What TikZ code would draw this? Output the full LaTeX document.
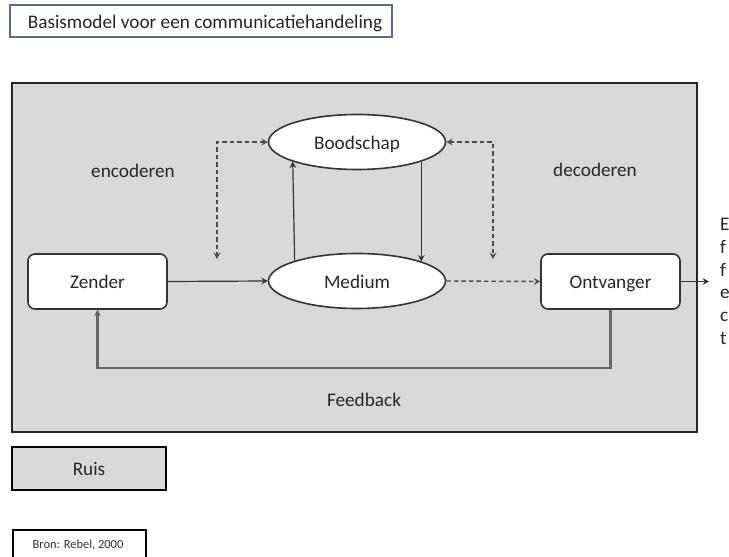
\documentclass[tikz,border=0pt]{standalone}
\usepackage{fontspec}
\setmainfont{Carlito}
\usetikzlibrary{arrows.meta,shapes.geometric}
\definecolor{bggray}{HTML}{D9D9D9}
\definecolor{lineg}{HTML}{333333}
\definecolor{titleb}{HTML}{5A6B85}
\tikzset{
  lbl/.style={font=\fontsize{19.3}{22}\selectfont, text=black!85},
  ctr/.style={text height=15bp, text depth=0.5bp},
  rbox/.style={draw=lineg, line width=1.6bp, fill=white, rounded corners=7bp, minimum width=139bp, minimum height=55bp, inner sep=0pt, lbl, ctr},
  ell/.style={ellipse, draw=lineg, line width=1.6bp, fill=white, minimum width=177bp, minimum height=55bp, inner sep=0pt, lbl, ctr},
  arr/.style={-{Stealth[length=6.5bp,width=7bp,inset=2.5bp]}, line width=1.2bp, draw=lineg},
  darr/.style={arr, dash pattern=on 4.5bp off 3bp, line width=1.4bp, draw=black!70},
}
\begin{document}
\begin{tikzpicture}[x=1bp,y=-1bp]
\clip (0,0) rectangle (729,557);
\fill[white] (0,0) rectangle (729,557);
% title
\node[draw=titleb, line width=1.3bp, fill=white, minimum width=382bp, minimum height=32bp, inner sep=0pt, lbl, ctr] (title) at (201,21) {\hspace*{8bp}Basismodel voor een communicatiehandeling};
% main area
\node[draw=black!85, line width=1.6bp, fill=bggray, minimum width=685bp, minimum height=349bp, inner sep=0pt] (area) at (354.5,257.5) {};
% nodes
\node[ell] (bood) at (357,142) {Boodschap};
\node[ell] (med) at (357,281) {Medium};
\node[rbox] (zend) at (97.5,281.5) {Zender};
\node[rbox] (ontv) at (610.5,281.5) {Ontvanger};
\node[lbl, ctr] (enc) at (133,170) {encoderen};
\node[lbl, ctr] (dec) at (595,169) {decoderen};
\node[lbl, ctr] (feed) at (364,399) {Feedback};
% connectors
\draw[arr] (zend.east) -- (med.west);
\draw[darr] (med.east) -- (ontv.west);
\coordinate (out) at (709,281.5);
\draw[arr] (ontv.east) -- (out);
\draw[arr] (med.162.6) -- (bood.197.4);
\draw[arr] (bood.-17.4) -- (med.17.4);
\coordinate (lt) at (217,142);
\coordinate (lb) at (217,259);
\coordinate (rt) at (493,142);
\coordinate (rb) at (493,259);
\draw[darr, {Stealth[length=6.5bp,width=7bp,inset=2.5bp]}-{Stealth[length=6.5bp,width=7bp,inset=2.5bp]}] (bood.west) -- (lt) -- (lb);
\draw[darr, {Stealth[length=6.5bp,width=7bp,inset=2.5bp]}-{Stealth[length=6.5bp,width=7bp,inset=2.5bp]}] (bood.east) -- (rt) -- (rb);
\coordinate (fb) at (357,368);
\draw[arr, draw=black!60, line width=2.2bp] (ontv.south) |- (fb) -| (zend.south);
% side text
\foreach \t [count=\i from 0] in {E,f,f,e,c,t}
  \node[lbl, anchor=base west, inner sep=0pt] (s\i) at (720,{231+22.6*\i}) {\t};
% Ruis
\node[draw=black, line width=1.6bp, fill=bggray, minimum width=154bp, minimum height=43bp, inner sep=0pt, lbl, ctr] (ruis) at (89,468.5) {Ruis};
% Bron
\node[draw=black, line width=1.8bp, fill=white, minimum width=133bp, minimum height=34bp, inner sep=0pt, anchor=north west] (bronbox) at (12,529) {};
\node[font=\fontsize{12.5}{14}\selectfont, text=black!80] (bron) at (78,545) {Bron: Rebel, 2000};
\end{tikzpicture}
\end{document}
